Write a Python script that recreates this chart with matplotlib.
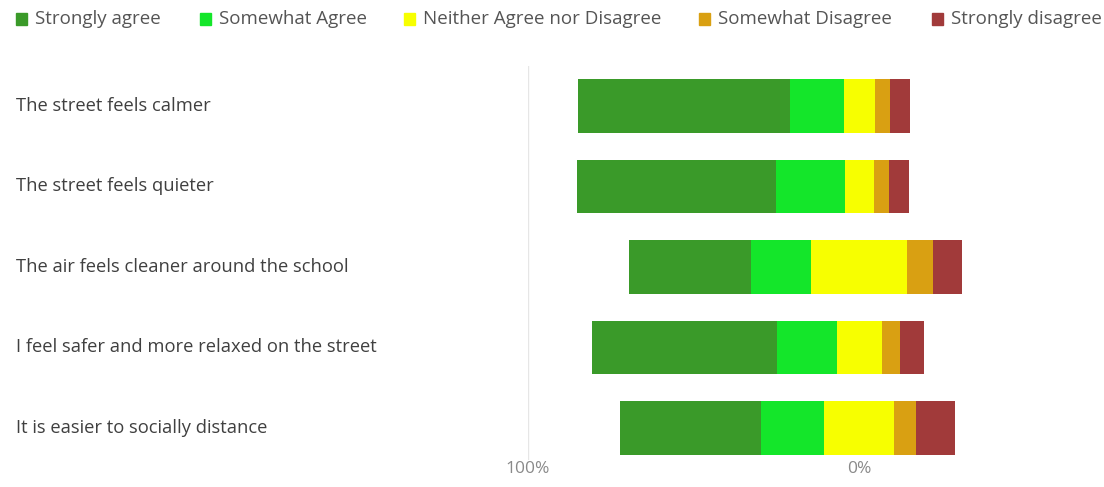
import matplotlib.pyplot as plt
import numpy as np
from matplotlib.patches import Rectangle
from matplotlib.transforms import blended_transform_factory

plt.rcParams['font.family'] = ['Open Sans', 'DejaVu Sans']

# survey statements, top to bottom
statements = [
    "The street feels calmer",
    "The street feels quieter",
    "The air feels cleaner around the school",
    "I feel safer and more relaxed on the street",
    "It is easier to socially distance",
]
responses = ["Strongly agree", "Somewhat Agree", "Neither Agree nor Disagree",
             "Somewhat Disagree", "Strongly disagree"]

# percentages per response
strongly_agree = [63.9, 59.9, 36.8, 55.8, 42.7]
somewhat_agree = [16.3, 20.8, 18.2, 18.1, 19.0]
neutral = [9.3, 8.8, 29.0, 13.6, 21.2]
somewhat_disagree = [4.6, 4.6, 7.9, 5.4, 6.6]
strongly_disagree = [6.0, 6.0, 8.7, 7.5, 11.6]

colors = ["#3a9a29", "#14e62a", "#f7ff00", "#d9a012", "#a13a3a"]

W, H = 1104, 487
fig = plt.figure(figsize=(W / 100, H / 100), dpi=100)
ax = fig.add_axes([528 / W, 1 - 460 / H, 1 - 528 / W, (460 - 66) / H])

series = np.array([strongly_agree, somewhat_agree, neutral,
                   somewhat_disagree, strongly_disagree])
# neutral block is centred on zero
start = -(series[0] + series[1] + series[2] / 2)
y = np.arange(len(statements))
left = start.copy()
for vals, col in zip(series, colors):
    ax.barh(y, vals, left=left, height=0.665, color=col, edgecolor='none')
    left = left + vals

ax.set_xlim(-100, (W - 859.3) / 3.31)
ax.set_ylim(4.398, -0.497)
ax.set_xticks([-100, 0])
ax.set_xticklabels(["100%", "0%"], color="#8a8a8a", fontsize=12.5)
ax.tick_params(axis='x', length=0, pad=1)
ax.set_yticks([])
for s in ax.spines.values():
    s.set_visible(False)
ax.axvline(-100, color="#e6e6e6", lw=1, zorder=0)

# statement labels on the left
trans = blended_transform_factory(fig.transFigure, ax.transData)
for i, label in enumerate(statements):
    ax.text(16 / W, i, label, transform=trans, ha='left', va='center',
            fontsize=13.2, color="#404040")

# legend row across the top
legend_x = [16, 200, 404, 699, 932]
for x0, name, col in zip(legend_x, responses, colors):
    fig.patches.append(Rectangle((x0 / W, 1 - 24.5 / H), 11 / W, 11 / H,
                                 transform=fig.transFigure, color=col))
    fig.text((x0 + 19) / W, 1 - 19 / H, name, ha='left', va='center',
             fontsize=13.5, color="#555555")

fig.savefig("out.png", dpi=100)
